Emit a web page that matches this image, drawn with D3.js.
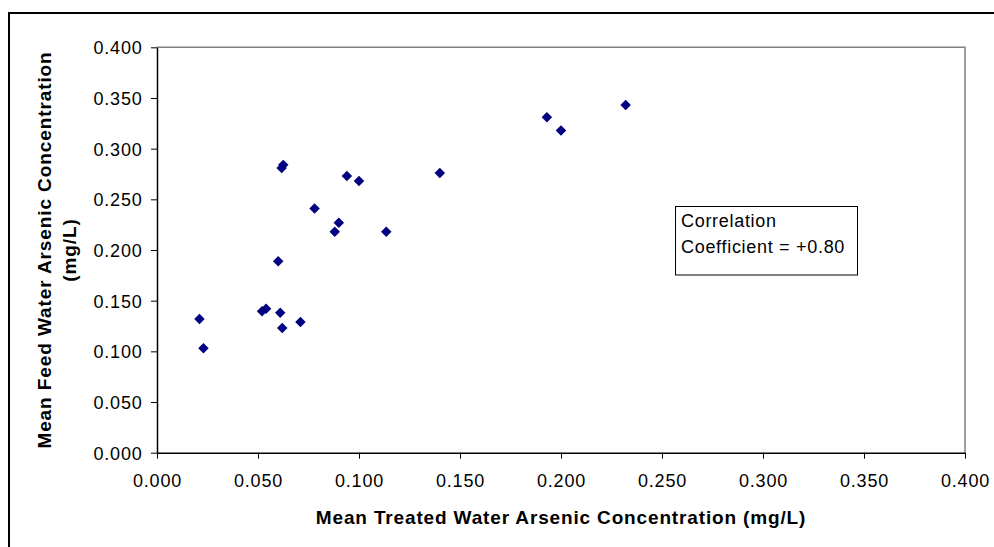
<!DOCTYPE html>
<html>
<head>
<meta charset="utf-8">
<script src="https://cdn.jsdelivr.net/npm/d3@7"></script>
<style>
  html, body { margin: 0; padding: 0; background: #fff; }
  svg { display: block; font-family: "Liberation Sans", Arial, sans-serif; }
</style>
</head>
<body>
<svg id="chart" width="994" height="547"></svg>
<script>
// Data
const treatedAs = [0.021, 0.023, 0.052, 0.054, 0.061, 0.062, 0.071, 0.060, 0.0617, 0.0625,
                   0.078, 0.088, 0.090, 0.094, 0.100, 0.1135, 0.140, 0.193, 0.200, 0.232];
const feedAs    = [0.132, 0.103, 0.1395, 0.142, 0.138, 0.123, 0.129, 0.189, 0.281, 0.284,
                   0.241, 0.218, 0.227, 0.273, 0.268, 0.218, 0.276, 0.331, 0.318, 0.343];
const xTicks = [0, 0.05, 0.1, 0.15, 0.2, 0.25, 0.3, 0.35, 0.4];
const yTicks = [0, 0.05, 0.1, 0.15, 0.2, 0.25, 0.3, 0.35, 0.4];
const xTitle = "Mean Treated Water Arsenic Concentration (mg/L)";
const yTitleLines = ["Mean Feed Water Arsenic Concentration", "(mg/L)"];
const noteLines = ["Correlation", "Coefficient = +0.80"];

const svg = d3.select("#chart");
const L = 157, R = 965, T = 47.3, B = 452.7;

// outer frame (right/bottom run off the canvas)
svg.append("rect").attr("x", 9).attr("y", 13).attr("width", 1100).attr("height", 700)
  .attr("fill", "none").attr("stroke", "#000").attr("stroke-width", 2);

const x = d3.scaleLinear().domain([0, 0.4]).range([L, R]);
const y = d3.scaleLinear().domain([0, 0.4]).range([B, T]);

// plot-area border (gray top/right)
svg.append("path")
  .attr("d", `M${L},${T}H${R}V${B}`)
  .attr("fill", "none").attr("stroke", "#808080").attr("stroke-width", 1.5);

const fmt = d3.format(".3f");

const xAxis = svg.append("g").attr("transform", `translate(0,${B})`)
  .call(d3.axisBottom(x).tickValues(xTicks).tickFormat(fmt).tickSizeOuter(0).tickSizeInner(6).tickPadding(16));
const yAxis = svg.append("g").attr("transform", `translate(${L},0)`)
  .call(d3.axisLeft(y).tickValues(yTicks).tickFormat(fmt).tickSizeOuter(0).tickSizeInner(6).tickPadding(8.5));

[xAxis, yAxis].forEach(g => {
  g.select(".domain").attr("stroke", "#000").attr("stroke-width", 1.5);
  g.selectAll(".tick line").attr("stroke", "#000").attr("stroke-width", 1);
  g.selectAll(".tick text").attr("fill", "#000").style("font-size", "18px")
    .style("letter-spacing", "0.8px")
    .style("font-family", "'Liberation Sans', Arial, sans-serif");
});
xAxis.selectAll(".tick text").attr("dy", "0.71em");
yAxis.selectAll(".tick text").attr("dy", "0.36em");

// points (diamonds)
const diamond = d3.symbol().type(d3.symbolDiamond2).size(70);
svg.append("g").selectAll("path").data(treatedAs.map((v, i) => [v, feedAs[i]]))
  .join("path")
  .attr("transform", d => `translate(${x(d[0])},${y(d[1])})`)
  .attr("d", diamond)
  .attr("fill", "#000080");

// x title
svg.append("text").attr("x", 561).attr("y", 524).attr("text-anchor", "middle")
  .style("font-size", "19px").style("font-weight", "bold").style("letter-spacing", "0.85px")
  .text(xTitle);

// y title
const yt = svg.append("text").attr("transform", "translate(0,250) rotate(-90)")
  .attr("text-anchor", "middle").style("font-size", "19px").style("font-weight", "bold")
  .style("letter-spacing", "0.9px");
yt.append("tspan").attr("x", 0).attr("y", 50.5).text(yTitleLines[0]);
yt.append("tspan").attr("x", 0).attr("y", 76).text(yTitleLines[1]);

// annotation box
svg.append("rect").attr("x", 675.5).attr("y", 206.5).attr("width", 182).attr("height", 68.5)
  .attr("fill", "#fff").attr("stroke", "#000").attr("stroke-width", 1);
noteLines.forEach((t, i) => {
  svg.append("text").attr("x", 681).attr("y", 227 + i * 25.5)
    .style("font-size", "18px").style("letter-spacing", "0.7px").text(t);
});
</script>
</body>
</html>
